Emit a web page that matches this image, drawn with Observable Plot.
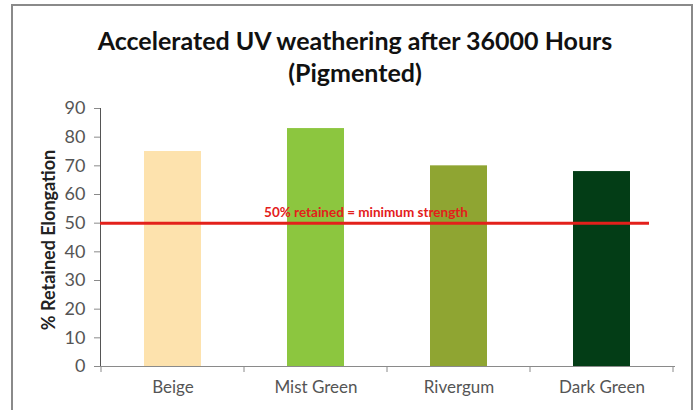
<!DOCTYPE html>
<html>
<head>
<meta charset="utf-8">
<script src="https://cdn.jsdelivr.net/npm/d3@7"></script>
<script src="https://cdn.jsdelivr.net/npm/@observablehq/plot@0.6"></script>
<style>
  html, body { margin: 0; padding: 0; background: #fff; }
  #wrap { position: relative; width: 697px; height: 410px; overflow: hidden; font-family: Lato, "Open Sans", sans-serif; }
  #frame { position: absolute; left: 11px; top: 4px; width: 682px; height: 420px; border: 2px solid #8a8a8a; box-sizing: border-box; }
  #title { position: absolute; left: 0; top: 24px; width: 710px; text-align: center; font-weight: bold; font-size: 25px; line-height: 32px; color: #111; }
  #chart { position: absolute; left: 0; top: 0; }
  #ylabel { position: absolute; left: 48px; top: 240px; transform: translate(-50%, -50%) rotate(-90deg); white-space: nowrap; font-weight: bold; font-size: 18px; color: #222; }
</style>
</head>
<body>
<div id="wrap">
  <div id="frame"></div>
  <div id="chart"></div>
  <div id="title">Accelerated UV weathering after 36000 Hours<br>(Pigmented)</div>
  <div id="ylabel">% Retained Elongation</div>
</div>
<script>
const categories = ["Beige", "Mist Green", "Rivergum", "Dark Green"];
const values = [75, 83, 70, 68];
const colors = ["#fde2ad", "#8cc63f", "#8fa532", "#033d16"];
const yTicks = [0, 10, 20, 30, 40, 50, 60, 70, 80, 90];
const threshold = 50;
const thresholdLabel = "50% retained = minimum strength";

const data = categories.map((c, i) => ({category: c, value: values[i], color: colors[i]}));

function categoryTicks(index, scales, values, dimensions) {
  const x = scales.x;
  const bw = typeof x.bandwidth === "function" ? x.bandwidth() : x.bandwidth;
  const st = typeof x.step === "function" ? x.step() : x.step;
  const gap = (st - bw) / 2;
  const y0 = dimensions.height - dimensions.marginBottom;
  const g = d3.create("svg:g").attr("stroke", "#8a8a8a").attr("stroke-width", 1);
  const edges = categories.map(c => x(c) - gap);
  edges.push(x(categories[categories.length - 1]) + bw + gap);
  for (const e of edges) {
    g.append("line").attr("x1", e).attr("x2", e).attr("y1", y0).attr("y2", y0 + 6);
  }
  return g.node();
}

const chart = Plot.plot({
  width: 697,
  height: 410,
  marginLeft: 100,
  marginRight: 22,
  marginTop: 108,
  marginBottom: 44,
  style: {background: "transparent", fontFamily: "Lato, 'Open Sans', sans-serif", color: "#555"},
  x: {domain: categories, paddingInner: 0.6, paddingOuter: 0.3, label: null, tickSize: 0, tickPadding: 14},
  y: {domain: [0, 90], ticks: yTicks, label: null, tickSize: 6, tickPadding: 9, line: true},
  marks: [
    Plot.barY(data, {x: "category", y: "value", fill: "color"}),
    Plot.ruleY([0], {stroke: "#8a8a8a", strokeWidth: 1}),
    categoryTicks,
    Plot.ruleY([threshold], {stroke: "#e3201b", strokeWidth: 3, insetRight: 26}),
    Plot.text([thresholdLabel], {x: () => categories[1], y: () => threshold, text: d => d, dx: 50, dy: -10, fill: "#e3201b", fontWeight: "bold", fontSize: 13.5})
  ]
});
document.getElementById("chart").appendChild(chart);
d3.select(chart).selectAll('[aria-label^="y-axis"] text').style("font-size", "18px");
d3.select(chart).selectAll('[aria-label^="x-axis"] text').style("font-size", "17px");
d3.select(chart).selectAll('[aria-label^="y-axis"] path, [aria-label^="y-axis"] line').style("stroke", "#8a8a8a");
</script>
</body>
</html>
